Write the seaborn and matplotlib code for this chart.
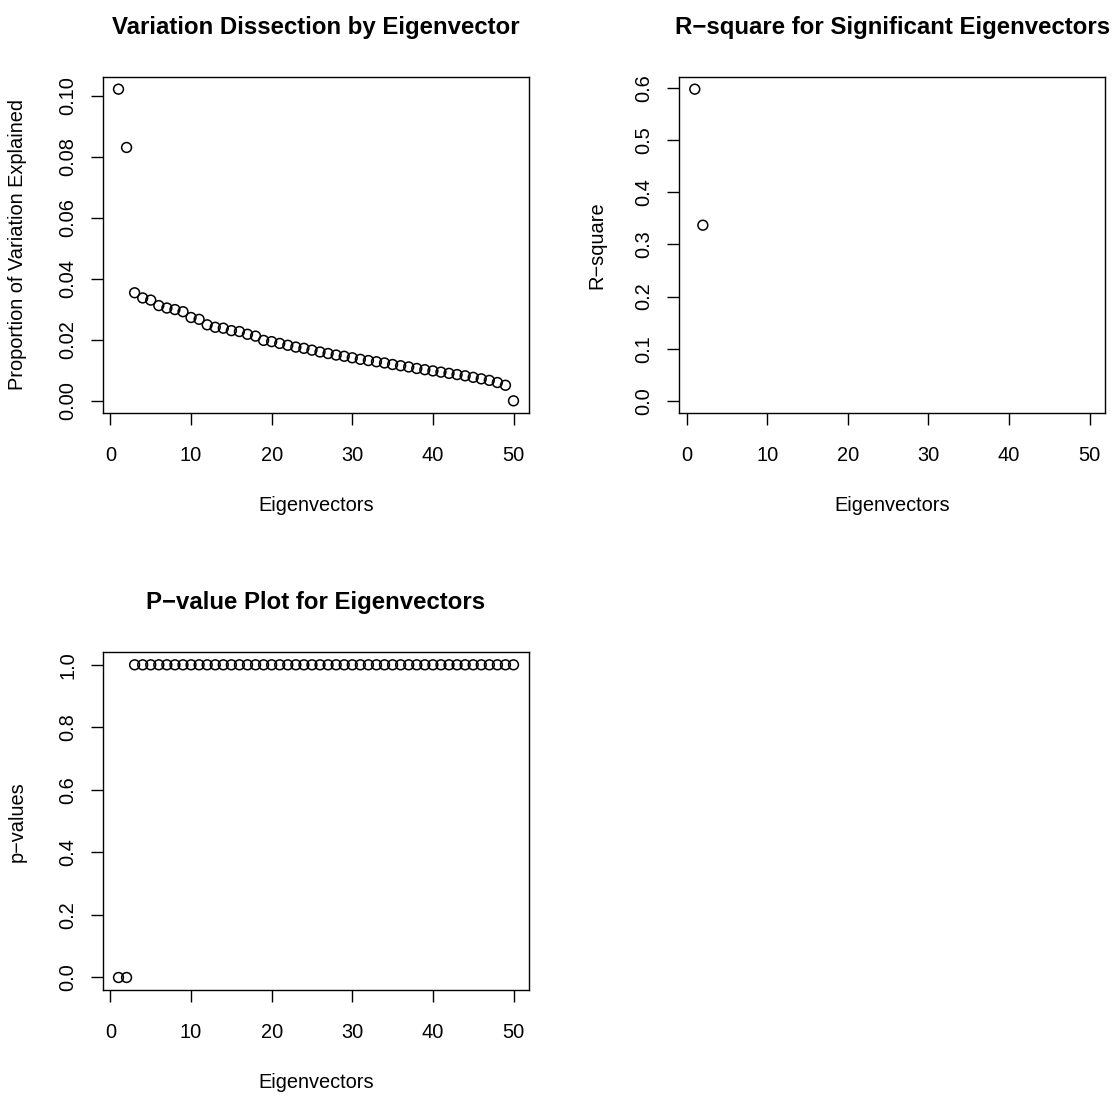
# Eigenvector dissection plots (3 panels, R-style base graphics look)

import matplotlib
matplotlib.use("Agg")
import matplotlib.pyplot as plt
import seaborn as sns
import numpy as np
import pandas as pd

# DATA
eigenvectors = list(range(1, 51))
prop_variation = [
    0.1021, 0.0830, 0.0354, 0.0337, 0.0330, 0.0312, 0.0304, 0.0299, 0.0292, 0.0273,
    0.0267, 0.0249, 0.0241, 0.0238, 0.0230, 0.0227, 0.0218, 0.0212, 0.0198, 0.0194,
    0.0188, 0.0182, 0.0176, 0.0172, 0.0166, 0.0160, 0.0155, 0.0150, 0.0146, 0.0141,
    0.0136, 0.0132, 0.0128, 0.0124, 0.0119, 0.0115, 0.0111, 0.0106, 0.0102, 0.0098,
    0.0094, 0.0090, 0.0086, 0.0082, 0.0077, 0.0072, 0.0067, 0.0060, 0.0051, 0.0000,
]
sig_eigenvectors = [1, 2]
r_square = [0.598, 0.337]
p_values = [0.0, 0.0] + [1.0] * 48

titles = ["Variation Dissection by Eigenvector",
          "R\u2212square for Significant Eigenvectors",
          "P\u2212value Plot for Eigenvectors"]
ylabels = ["Proportion of Variation Explained", "R\u2212square", "p\u2212values"]
xlabel = "Eigenvectors"

sns.set_style("ticks")
plt.rcParams['font.family'] = ['Liberation Sans', 'DejaVu Sans']
plt.rcParams['axes.linewidth'] = 1.0
for k in ['text.color', 'axes.labelcolor', 'xtick.color', 'ytick.color', 'axes.edgecolor']:
    plt.rcParams[k] = 'black'

W, H = 1117, 1097
fig = plt.figure(figsize=(W / 100, H / 100), dpi=100)

# axes boxes in pixels: left, top, right, bottom
boxes = [(102.7, 76.7, 529.3, 413.3),
         (679.0, 76.7, 1105.3, 413.3),
         (102.7, 652.3, 529.3, 990.0)]


def r_lim(lo, hi):
    pad = (hi - lo) * 0.04
    return lo - pad, hi + pad


def make_ax(box):
    l, t, r, b = box
    return fig.add_axes([l / W, 1 - b / H, (r - l) / W, (b - t) / H])


df1 = pd.DataFrame({"x": eigenvectors, "y": prop_variation})
df2 = pd.DataFrame({"x": sig_eigenvectors, "y": r_square})
df3 = pd.DataFrame({"x": eigenvectors, "y": p_values})

panels = [
    (df1, np.arange(0, 0.101, 0.02), "{:.2f}", r_lim(0, max(prop_variation))),
    (df2, np.arange(0, 0.61, 0.1), "{:.1f}", r_lim(0, max(r_square))),
    (df3, np.arange(0, 1.01, 0.2), "{:.1f}", r_lim(0, 1)),
]

fs = 14.4
for i, (df, yt, fmt, ylim) in enumerate(panels):
    ax = make_ax(boxes[i])
    sns.scatterplot(data=df, x="x", y="y", ax=ax, marker="o", s=50,
                    facecolor="none", edgecolor="black", linewidth=1.1)
    ax.set_xlim(r_lim(min(eigenvectors), max(eigenvectors)))
    ax.set_ylim(ylim)
    ax.set_xticks([0, 10, 20, 30, 40, 50])
    ax.set_xticklabels(["0", "10", "20", "30", "40", "50"], fontsize=fs)
    ax.set_yticks(yt)
    ax.set_yticklabels([fmt.format(v) for v in yt], fontsize=fs,
                       rotation=90, va="center")
    ax.tick_params(length=8.5, width=1.0, color="black")
    ax.tick_params(axis="x", pad=15)
    ax.tick_params(axis="y", pad=10)
    for sp in ax.spines.values():
        sp.set_visible(True)
        sp.set_color("black")
        sp.set_linewidth(1.0)
    ax.set_title(titles[i], fontsize=17.3, fontweight="bold", pad=31)
    l, t, r, b = boxes[i]
    aw, ah = r - l, b - t
    ax.set_xlabel(xlabel, fontsize=fs)
    ax.xaxis.label.set_va("baseline")
    ax.xaxis.set_label_coords(0.5, -98 / ah)
    ax.set_ylabel(ylabels[i], fontsize=fs)
    ax.yaxis.label.set_va("center")
    ylab_x = 596.5 if i == 1 else 17.5
    ax.yaxis.set_label_coords(-(l - ylab_x) / aw, 0.5)

fig.savefig("out.png", dpi=100, facecolor="white")
